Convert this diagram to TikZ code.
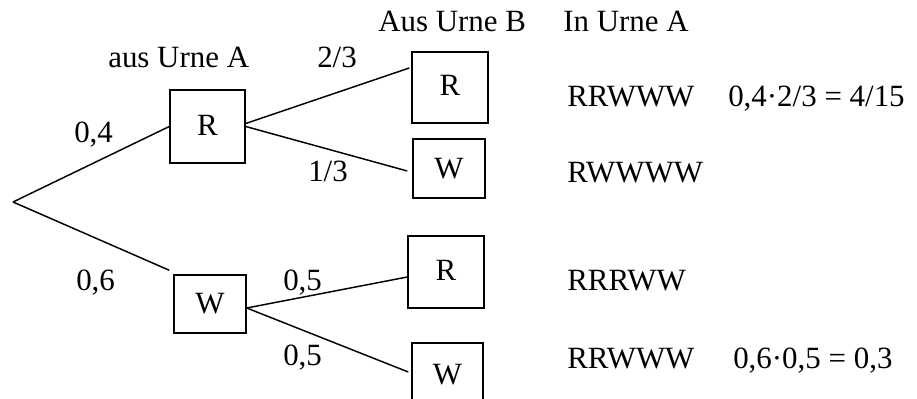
\documentclass[tikz,border=0pt]{standalone}
\usepackage{fontspec}
\setmainfont{Liberation Serif}
\newdimen\pxu \pxu=0.75pt
\begin{document}
\begin{tikzpicture}[x=0.75pt,y=-0.75pt,
  every node/.style={font=\fontsize{23.2}{27}\selectfont},
  txt/.style={anchor=base west,inner sep=0pt},
  urnbox/.style={draw,line width=1.1pt,inner sep=0pt},
  branch/.style={line width=1.1pt}]
\useasboundingbox (0,0) rectangle (917,399);
\clip (0,0) rectangle (917,399);
% root
\coordinate (root) at (13,202);
% boxes
\node[urnbox,minimum width=75\pxu,minimum height=73\pxu] (r1) at (207.5,126.5) {\raisebox{2\pxu}{R}};
\node[urnbox,minimum width=72\pxu,minimum height=58\pxu] (w1) at (210,304) {W};
\node[urnbox,minimum width=76\pxu,minimum height=71\pxu] (r2) at (450,87.5) {\raisebox{4.5\pxu}{R}};
\node[urnbox,minimum width=72\pxu,minimum height=59\pxu] (w2) at (449,168.5) {W};
\node[urnbox,minimum width=76\pxu,minimum height=72\pxu] (r3) at (446,272) {\raisebox{4\pxu}{R}};
\node[urnbox,minimum width=71\pxu,minimum height=67\pxu] (w3) at (447.5,376.5) {\raisebox{5\pxu}{W}};
% connector end points
\coordinate (r1o) at ([yshift=3\pxu]r1.east);
\coordinate (r2i) at ([shift={(-2\pxu,19.5\pxu)}]r2.west);
\coordinate (w2i) at ([shift={(-5\pxu,-2.5\pxu)}]w2.west);
\coordinate (w1i) at ([shift={(-4\pxu,4\pxu)}]w1.north west);
\coordinate (w1o) at ([yshift=-4\pxu]w1.east);
\coordinate (r3i) at ([yshift=-5\pxu]r3.west);
\coordinate (w3i) at ([shift={(-3\pxu,4.5\pxu)}]w3.west);
% branches
\draw[branch] (root) -- (r1.west);
\draw[branch] (root) -- (w1i);
\draw[branch] (r1o) -- (r2i);
\draw[branch] (r1.east) -- (w2i);
\draw[branch] (w1o) -- (r3i);
\draw[branch] (w1o) -- (w3i);
% labels
\node[txt] (hA) at (108,68) {aus Urne A};
\node[txt] (hB) at (378,32) {Aus Urne B};
\node[txt] (hC) at (563,32) {In Urne A};
\node[txt] (p04) at (74,143) {0,4};
\node[txt] (p06) at (76,290) {0,6};
\node[txt] (p23) at (317,68) {2/3};
\node[txt] (p13) at (308,181) {1/3};
\node[txt] (p05a) at (283,290) {0,5};
\node[txt] (p05b) at (283,365) {0,5};
% results
\node[txt] (o1) at (567,107) {RRWWW};
\node[txt] (c1) at (728,107) {0,4·2/3 = 4/15};
\node[txt] (o2) at (567,182) {RWWWW};
\node[txt] (o3) at (567,290) {RRRWW};
\node[txt] (o4) at (567,368) {RRWWW};
\node[txt] (c4) at (733,368) {0,6·0,5 = 0,3};
\end{tikzpicture}
\end{document}
